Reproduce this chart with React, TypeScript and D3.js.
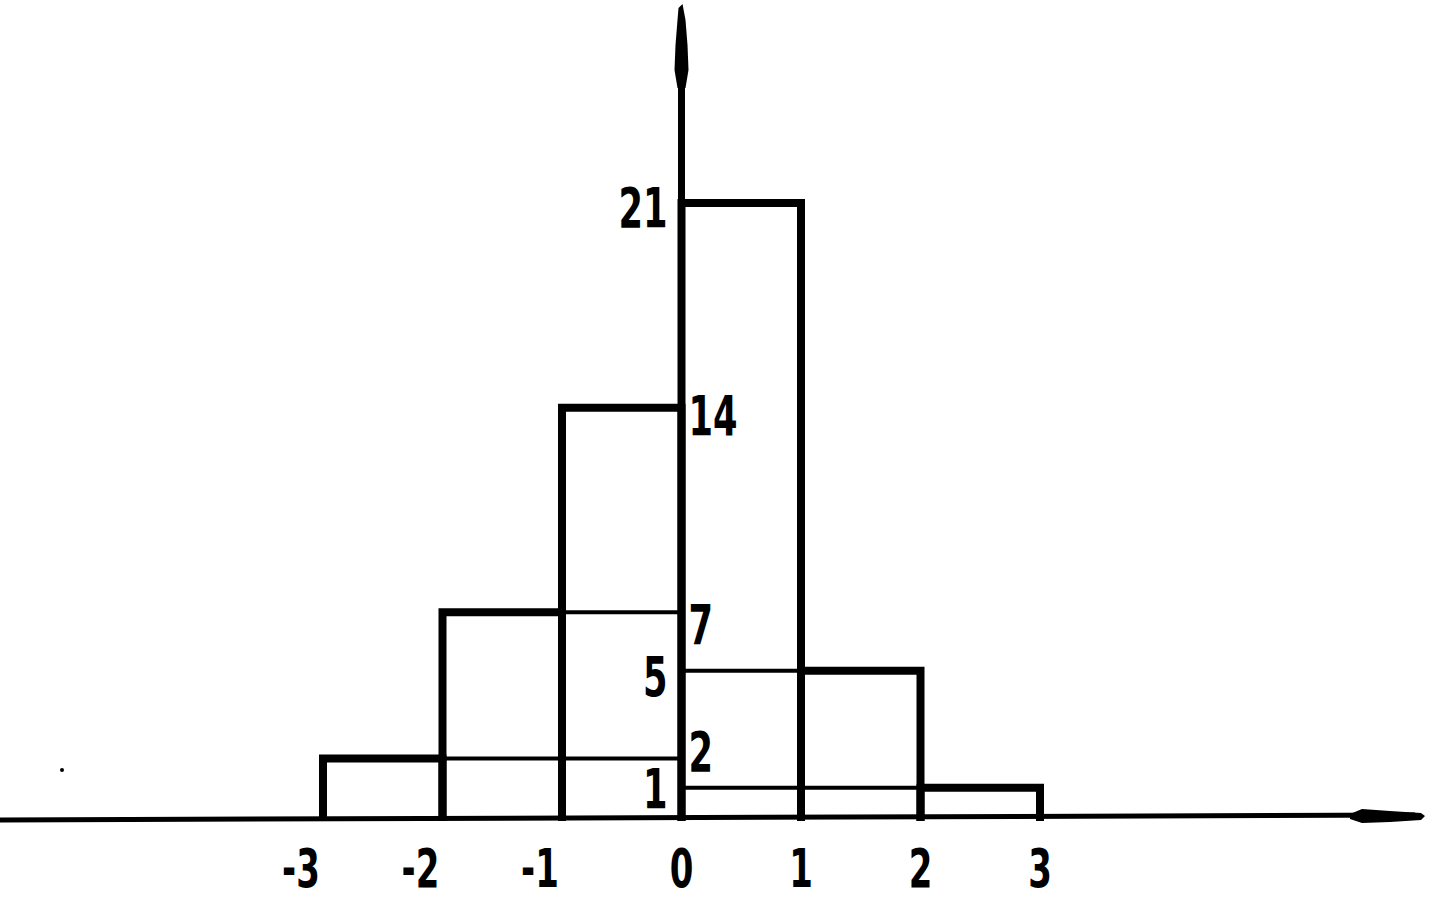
import React from "react";
import * as d3 from "d3";

const binEdges = [-3, -2, -1, 0, 1, 2, 3];
const counts = [2, 7, 14, 21, 5, 1];
const xTickLabels = ["-3", "-2", "-1", "0", "1", "2", "3"];
const valueLabels = [
  { v: 21, side: "left", dy: 4 },
  { v: 14, side: "right", dy: 8 },
  { v: 7, side: "right", dy: 12 },
  { v: 5, side: "left", dy: 5 },
  { v: 2, side: "right", dy: -7 },
  { v: 1, side: "left", dy: 1 },
];

const W = 1451;
const H = 906;

export default function App() {
  const x = d3.scaleLinear().domain([-3, 3]).range([323, 1040]);
  const y = d3.scaleLinear().domain([0, 21]).range([817, 203]);
  const x0 = x(0);
  const base = y(0);
  const font = "'DejaVu Sans Condensed', 'DejaVu Sans', sans-serif";
  const sx = 0.7;

  const bars = counts.map((c, i) => ({
    a: binEdges[i],
    b: binEdges[i + 1],
    c,
  }));

  const yArrow = d3.line()([
    [x0 - 3, 8],
    [x0 + 1, 4],
    [x0 + 4, 20],
    [x0 + 6, 45],
    [x0 + 7, 70],
    [x0 + 4, 88],
    [x0 - 4, 88],
    [x0 - 7, 70],
    [x0 - 6, 45],
    [x0 - 4, 20],
  ]) + "Z";
  const xEnd = 1425;
  const xArrow = d3.line()([
    [1350, base - 3],
    [1362, base - 8],
    [1390, base - 6],
    [xEnd - 4, base - 4],
    [xEnd, base - 1],
    [xEnd - 4, base + 3],
    [1390, base + 5],
    [1362, base + 6],
    [1350, base + 2],
  ]) + "Z";

  return (
    <svg
      width={W}
      height={H}
      style={{ position: "absolute", left: 0, top: 0, background: "#fff" }}
    >
      <rect width={W} height={H} fill="#fff" />
      {bars.map((d, i) => {
        if (d.a < 0 && d.b < 0) {
          return (
            <line key={"g" + i} x1={x(d.b)} x2={x0} y1={y(d.c)} y2={y(d.c)} stroke="#000" strokeWidth={4} />
          );
        }
        if (d.a > 0) {
          return (
            <line key={"g" + i} x1={x0} x2={x(d.a)} y1={y(d.c)} y2={y(d.c)} stroke="#000" strokeWidth={4} />
          );
        }
        return null;
      })}
      <line x1={0} x2={xEnd - 10} y1={base + 3} y2={base - 2} stroke="#000" strokeWidth={5} />
      <path d={xArrow} fill="#000" />
      <line x1={x0} x2={x0} y1={60} y2={base} stroke="#000" strokeWidth={7} />
      <path d={yArrow} fill="#000" />
      {bars.map((d, i) => (
        <path
          key={"b" + i}
          d={`M${x(d.a)},${base + 4}V${y(d.c)}H${x(d.b)}V${base + 4}`}
          fill="none"
          stroke="#000"
          strokeWidth={8}
          strokeLinejoin="miter"
        />
      ))}
      {valueLabels.map((l, i) => (
        <g
          key={"v" + i}
          transform={`translate(${l.side === "left" ? x0 - 14 : x0 + 7},${y(l.v) + l.dy}) scale(${sx},1)`}
        >
          <text
            x={0}
            y={0}
            textAnchor={l.side === "left" ? "end" : "start"}
            fontFamily={font}
            fontWeight="bold"
            fontSize={56}
            dominantBaseline="central"
          >
            {l.v}
          </text>
        </g>
      ))}
      {binEdges.map((e, i) => (
        <g key={"t" + i} transform={`translate(${x(e) - (e < 0 ? 22 : 0)},868) scale(${sx},1)`}>
          <text
            x={0}
            y={0}
            textAnchor="middle"
            fontFamily={font}
            fontWeight="bold"
            fontSize={54}
            dominantBaseline="central"
          >
            {xTickLabels[i]}
          </text>
        </g>
      ))}
      <circle cx={62} cy={770} r={2} fill="#000" />
    </svg>
  );
}
